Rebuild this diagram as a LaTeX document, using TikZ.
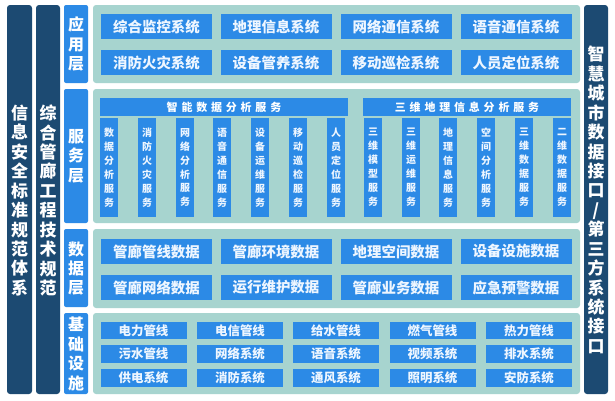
\documentclass[tikz,border=0pt]{standalone}
\usepackage{fontspec}
\setmainfont{Noto Sans CJK SC}
\newfontfamily\cjkspread{Noto Sans CJK SC}[LetterSpace=35]
\definecolor{navy}{HTML}{1C4A72}
\definecolor{itemblue}{HTML}{2C8AE6}
\definecolor{panelteal}{HTML}{A7D4CF}
\definecolor{itemtext}{HTML}{EEF6FF}

\begin{document}
\begin{tikzpicture}[x=1bp, y=-1bp,
    sidebar/.style={draw=none, fill=navy, rounded corners=3bp},
    sidetext/.style={text=white, align=center, font=\bfseries\fontsize{17}{19.5}\selectfont, inner sep=0},
    layerbox/.style={fill=itemblue, rounded corners=2bp},
    layertext/.style={text=white, align=center, font=\bfseries\fontsize{16}{19.5}\selectfont, inner sep=0},
    panel/.style={fill=panelteal, rounded corners=3bp},
    bigitem/.style={fill=itemblue, text=itemtext, minimum width=111bp, minimum height=25bp, inner sep=0, font=\bfseries\fontsize{14.5}{16}\selectfont},
    smallitem/.style={fill=itemblue, text=itemtext, minimum width=86bp, minimum height=17.5bp, inner sep=0, font=\bfseries\fontsize{12.5}{14}\selectfont},
    svchead/.style={fill=itemblue, text=white, minimum height=18bp, inner sep=0, font=\cjkspread\bfseries\fontsize{11}{12}\selectfont},
    svccol/.style={fill=itemblue, text=itemtext, minimum width=18bp, minimum height=99bp, inner sep=0, align=center, font=\bfseries\fontsize{10}{14}\selectfont}]
\useasboundingbox[fill=white] (0,0) rectangle (615,400);

% side bars
\fill[sidebar] (7,5) rectangle (32,394);
\node[sidetext] (infosafe) at (19.5,200.5) {信\\息\\安\\全\\标\\准\\规\\范\\体\\系};
\fill[sidebar] (36,5) rectangle (60,394);
\node[sidetext] (tunnelspec) at (48,200.5) {综\\合\\管\\廊\\工\\程\\技\\术\\规\\范};
\fill[sidebar] (584,5) rectangle (608,394);
\node[sidetext] (cityport) at (596,200) {智\\慧\\城\\市\\数\\据\\接\\口\\/\\第\\三\\方\\系\\统\\接\\口};

% layer labels
\fill[layerbox] (64,5) rectangle (88,83);
\node[layertext] (appname) at (76,44) {应\\用\\层};
\fill[layerbox] (64,89) rectangle (88,223);
\node[layertext] (svcname) at (76,156) {服\\务\\层};
\fill[layerbox] (64,229) rectangle (88,307);
\node[layertext] (dataname) at (76,268.5) {数\\据\\层};
\fill[layerbox] (64,313) rectangle (88,394);
\node[layertext] (basename) at (76,354) {基\\础\\设\\施};

% panels
\fill[panel] (93,5) rectangle (580,83);
\fill[panel] (93,89) rectangle (580,223);
\fill[panel] (93,229) rectangle (580,308);
\fill[panel] (93,313) rectangle (580,394);

% application layer
\node[bigitem] (app1) at (156.5,26.5) {综合监控系统};
\node[bigitem] (app2) at (276,26.5) {地理信息系统};
\node[bigitem] (app3) at (396,26.5) {网络通信系统};
\node[bigitem] (app4) at (516,26.5) {语音通信系统};
\node[bigitem] (app5) at (156.5,62.5) {消防火灾系统};
\node[bigitem] (app6) at (276,62.5) {设备管养系统};
\node[bigitem] (app7) at (396,62.5) {移动巡检系统};
\node[bigitem] (app8) at (516,62.5) {人员定位系统};

% service layer
\node[svchead, minimum width=248bp] (smart) at (224,107) {智能数据分析服务};
\node[svchead, minimum width=208bp] (geo3d) at (467,107) {三维地理信息分析服务};
\node[svccol] (sa1) at (109,167.5) {数\\据\\分\\析\\服\\务};
\node[svccol] (sa2) at (147,167.5) {消\\防\\火\\灾\\服\\务};
\node[svccol] (sa3) at (185,167.5) {网\\络\\分\\析\\服\\务};
\node[svccol] (sa4) at (222,167.5) {语\\音\\通\\信\\服\\务};
\node[svccol] (sa5) at (260,167.5) {设\\备\\运\\维\\服\\务};
\node[svccol] (sa6) at (298,167.5) {移\\动\\巡\\检\\服\\务};
\node[svccol] (sa7) at (336,167.5) {人\\员\\定\\位\\服\\务};
\node[svccol] (gb1) at (373,167.5) {三\\维\\模\\型\\服\\务};
\node[svccol] (gb2) at (411,167.5) {三\\维\\运\\维\\服\\务};
\node[svccol] (gb3) at (448,167.5) {地\\理\\信\\息\\服\\务};
\node[svccol] (gb4) at (486,167.5) {空\\间\\分\\析\\服\\务};
\node[svccol] (gb5) at (524,167.5) {三\\维\\数\\据\\服\\务};
\node[svccol] (gb6) at (562,167.5) {二\\维\\数\\据\\服\\务};

% data layer
\node[bigitem] (data1) at (156.5,251.5) {管廊管线数据};
\node[bigitem] (data2) at (276,251.5) {管廊环境数据};
\node[bigitem] (data3) at (396,251.5) {地理空间数据};
\node[bigitem] (data4) at (516,251.5) {设备设施数据};
\node[bigitem] (data5) at (156.5,287.5) {管廊网络数据};
\node[bigitem] (data6) at (276,287.5) {运行维护数据};
\node[bigitem] (data7) at (396,287.5) {管廊业务数据};
\node[bigitem] (data8) at (516,287.5) {应急预警数据};

% infrastructure layer
\node[smallitem] (base1) at (143.5,330.5) {电力管线};
\node[smallitem] (base2) at (240,330.5) {电信管线};
\node[smallitem] (base3) at (336,330.5) {给水管线};
\node[smallitem] (base4) at (432.5,330.5) {燃气管线};
\node[smallitem] (base5) at (529,330.5) {热力管线};
\node[smallitem] (base6) at (143.5,354) {污水管线};
\node[smallitem] (base7) at (240,354) {网络系统};
\node[smallitem] (base8) at (336,354) {语音系统};
\node[smallitem] (base9) at (432.5,354) {视频系统};
\node[smallitem] (base10) at (529,354) {排水系统};
\node[smallitem] (base11) at (143.5,378) {供电系统};
\node[smallitem] (base12) at (240,378) {消防系统};
\node[smallitem] (base13) at (336,378) {通风系统};
\node[smallitem] (base14) at (432.5,378) {照明系统};
\node[smallitem] (base15) at (529,378) {安防系统};

\end{tikzpicture}
\end{document}
